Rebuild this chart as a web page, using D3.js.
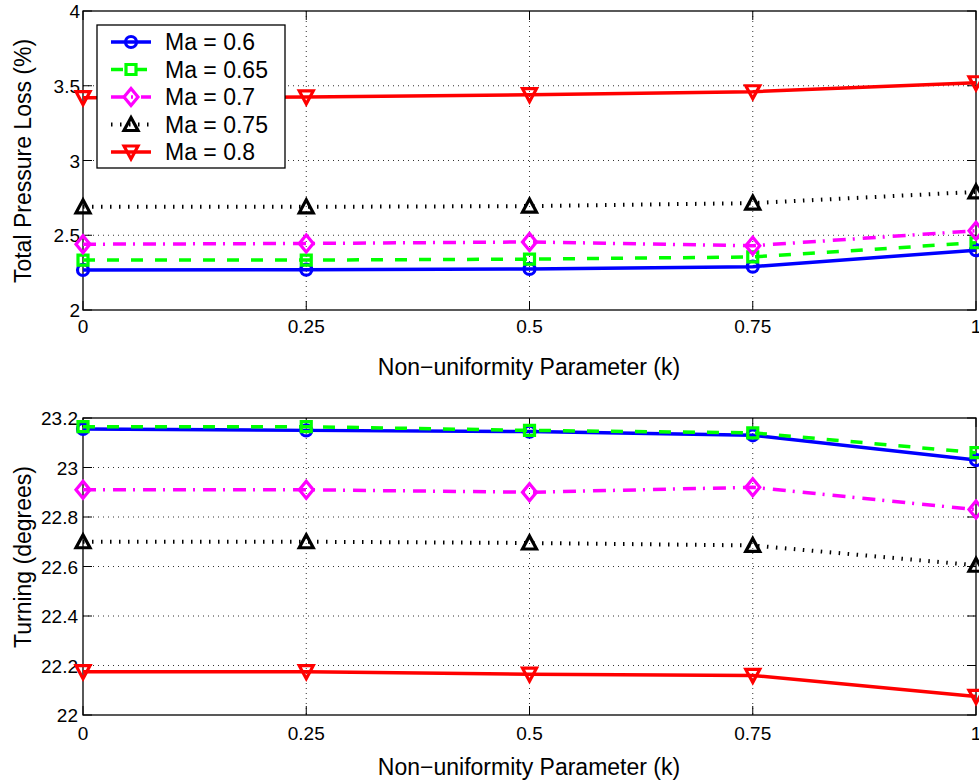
<!DOCTYPE html>
<html>
<head>
<meta charset="utf-8">
<script src="https://cdn.jsdelivr.net/npm/d3@7"></script>
<style>
  body { margin: 0; background: #fff; }
  svg { display: block; font-family: "Liberation Sans", Arial, Helvetica, sans-serif; }
</style>
</head>
<body>
<svg id="chart" width="979" height="780"></svg>
<script>
// Non-uniformity parameter values (x axis)
const kValues = [0, 0.25, 0.5, 0.75, 1];
const machLabels = ["Ma = 0.6", "Ma = 0.65", "Ma = 0.7", "Ma = 0.75", "Ma = 0.8"];

// Total pressure loss (%) per Mach number
const loss060 = [2.268, 2.270, 2.275, 2.290, 2.400];
const loss065 = [2.334, 2.334, 2.340, 2.355, 2.450];
const loss070 = [2.440, 2.445, 2.455, 2.430, 2.530];
const loss075 = [2.690, 2.690, 2.695, 2.715, 2.790];
const loss080 = [3.420, 3.425, 3.440, 3.460, 3.520];

// Turning (degrees) per Mach number
const turn060 = [23.156, 23.150, 23.145, 23.130, 23.030];
const turn065 = [23.165, 23.165, 23.150, 23.140, 23.060];
const turn070 = [22.910, 22.910, 22.900, 22.920, 22.830];
const turn075 = [22.700, 22.700, 22.695, 22.685, 22.605];
const turn080 = [22.175, 22.175, 22.165, 22.160, 22.075];

const lossTicks = [2, 2.5, 3, 3.5, 4];
const turnTicks = [22, 22.2, 22.4, 22.6, 22.8, 23, 23.2];

const styles = [
  { color: "#0000ff", dash: null, marker: "circle" },
  { color: "#00ff00", dash: "12,12", marker: "square" },
  { color: "#ff00ff", dash: "13,7,2,8", marker: "diamond" },
  { color: "#000000", dash: "1.5,7.5", marker: "triangleUp" },
  { color: "#ff0000", dash: null, marker: "triangleDown" }
];

const svg = d3.select("#chart");

function markerPath(type) {
  switch (type) {
    case "circle": return "M-5.5,0A5.5,5.5 0 1,0 5.5,0A5.5,5.5 0 1,0 -5.5,0Z";
    case "square": return "M-5,-5H5V5H-5Z";
    case "diamond": return "M0,-8.5L7,0L0,8.5L-7,0Z";
    case "triangleUp": return "M0,-7L7,6H-7Z";
    case "triangleDown": return "M0,7L7,-6H-7Z";
  }
}

function drawPanel(cfg) {
  const x = d3.scaleLinear().domain([0, 1]).range([83, 976]);
  const y = d3.scaleLinear().domain(cfg.domain).range([cfg.bottom, cfg.top]);
  const g = svg.append("g");

  // dotted grid
  g.selectAll(".vgrid").data(kValues.slice(1, -1)).enter().append("line")
    .attr("x1", d => x(d)).attr("x2", d => x(d))
    .attr("y1", cfg.top).attr("y2", cfg.bottom)
    .attr("stroke", "#333").attr("stroke-width", 1).attr("stroke-dasharray", "1,4");
  g.selectAll(".hgrid").data(cfg.ticks.slice(1, -1)).enter().append("line")
    .attr("x1", 83).attr("x2", 976)
    .attr("y1", d => y(d)).attr("y2", d => y(d))
    .attr("stroke", "#333").attr("stroke-width", 1).attr("stroke-dasharray", "1,4");

  // inward ticks on all four sides
  const tl = 9;
  g.selectAll(".ytl").data(cfg.ticks).enter().append("line")
    .attr("x1", 83).attr("x2", 83 + tl).attr("y1", d => y(d)).attr("y2", d => y(d))
    .attr("stroke", "#000");
  g.selectAll(".ytr").data(cfg.ticks).enter().append("line")
    .attr("x1", 976 - tl).attr("x2", 976).attr("y1", d => y(d)).attr("y2", d => y(d))
    .attr("stroke", "#000");
  g.selectAll(".xtb").data(kValues).enter().append("line")
    .attr("x1", d => x(d)).attr("x2", d => x(d)).attr("y1", cfg.bottom).attr("y2", cfg.bottom - tl)
    .attr("stroke", "#000");
  g.selectAll(".xtt").data(kValues).enter().append("line")
    .attr("x1", d => x(d)).attr("x2", d => x(d)).attr("y1", cfg.top).attr("y2", cfg.top + tl)
    .attr("stroke", "#000");

  // box
  g.append("rect").attr("x", 83).attr("y", cfg.top)
    .attr("width", 976 - 83).attr("height", cfg.bottom - cfg.top)
    .attr("fill", "none").attr("stroke", "#000").attr("stroke-width", 1.3);

  // tick labels
  g.selectAll(".ylab").data(cfg.ticks).enter().append("text")
    .attr("x", cfg.yLabelX).attr("y", d => y(d) + 7)
    .attr("text-anchor", "end").attr("font-size", 19)
    .text(d => d3.format("~g")(d));
  g.selectAll(".xlab").data(kValues).enter().append("text")
    .attr("x", d => x(d)).attr("y", cfg.bottom + cfg.xTickGap)
    .attr("text-anchor", "middle").attr("font-size", 19)
    .text(d => d3.format("~g")(d));

  // axis titles
  g.append("text").attr("x", 529).attr("y", cfg.xTitleY)
    .attr("text-anchor", "middle").attr("font-size", 23)
    .text("Non\u2212uniformity Parameter (k)");
  g.append("text")
    .attr("transform", `translate(31,${cfg.yTitleMid}) rotate(-90)`)
    .attr("text-anchor", "middle").attr("font-size", 23)
    .text(cfg.yTitle);

  // series
  const line = d3.line().x((d, i) => x(kValues[i])).y(d => y(d));
  cfg.series.forEach((vals, si) => {
    const st = styles[si];
    g.append("path").datum(vals).attr("d", line)
      .attr("fill", "none").attr("stroke", st.color)
      .attr("stroke-width", st.marker === "triangleUp" ? 4 : 3.5)
      .attr("stroke-dasharray", st.dash);
    g.selectAll(null).data(vals).enter().append("path")
      .attr("transform", (d, i) => `translate(${x(kValues[i])},${y(d)})`)
      .attr("d", markerPath(st.marker))
      .attr("fill", "none").attr("stroke", st.color).attr("stroke-width", 3.2);
  });
  return g;
}

drawPanel({
  domain: [2, 4], top: 11, bottom: 310, ticks: lossTicks, yLabelX: 80,
  xTickGap: 23, xTitleY: 375, yTitleMid: 161,
  yTitle: "Total Pressure Loss (%)",
  series: [loss060, loss065, loss070, loss075, loss080]
});

drawPanel({
  domain: [22, 23.2], top: 418, bottom: 715, ticks: turnTicks, yLabelX: 78,
  xTickGap: 25, xTitleY: 775, yTitleMid: 557,
  yTitle: "Turning (degrees)",
  series: [turn060, turn065, turn070, turn075, turn080]
});

// legend
const legend = svg.append("g");
legend.append("rect").attr("x", 97).attr("y", 25).attr("width", 188).attr("height", 143)
  .attr("fill", "#fff").attr("stroke", "#000").attr("stroke-width", 1.3);
machLabels.forEach((lab, i) => {
  const cy = 42 + i * 27.5;
  const st = styles[i];
  legend.append("line").attr("x1", 111).attr("x2", 151).attr("y1", cy).attr("y2", cy)
    .attr("stroke", st.color).attr("stroke-width", st.marker === "triangleUp" ? 4 : 3.5)
    .attr("stroke-dasharray", st.dash);
  legend.append("path").attr("transform", `translate(131,${cy})`)
    .attr("d", markerPath(st.marker))
    .attr("fill", "none").attr("stroke", st.color).attr("stroke-width", 3.2);
  legend.append("text").attr("x", 165).attr("y", cy + 8).attr("font-size", 23).text(lab);
});
</script>
</body>
</html>
